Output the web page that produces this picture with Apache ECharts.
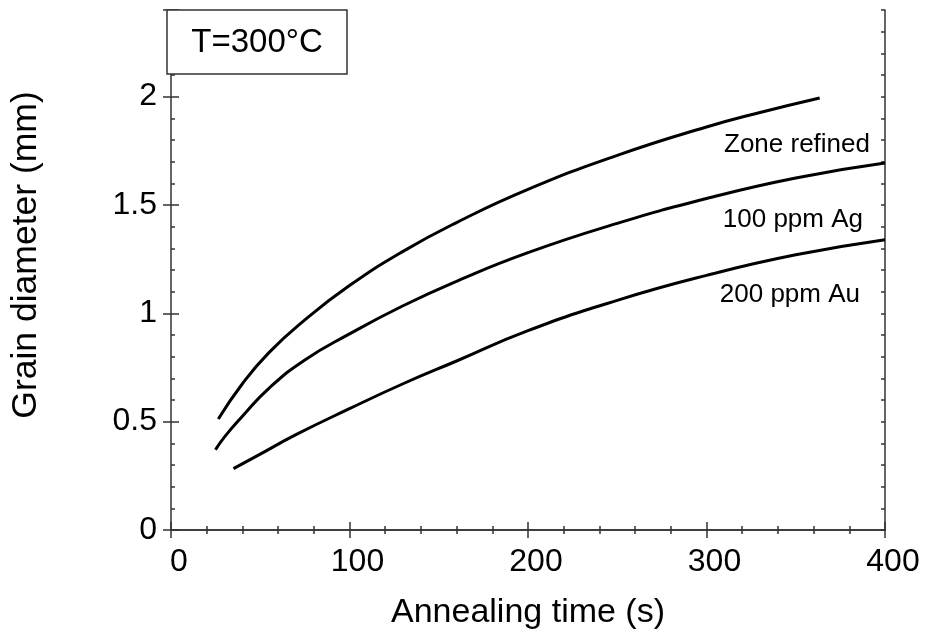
<!DOCTYPE html>
<html>
<head>
<meta charset="utf-8">
<script src="https://cdn.jsdelivr.net/npm/echarts@6/dist/echarts.min.js"></script>
<style>
html,body{margin:0;padding:0;background:#fff;}
#chart{width:926px;height:642px;}
</style>
</head>
<body>
<div id="chart"></div>
<script>
// ---- data ----
const seriesNames = ['Zone refined', '100 ppm Ag', '200 ppm Au'];
const zoneTime = [26.5, 40, 55, 75, 100, 130, 160, 200, 250, 300, 330, 363.4];
const zoneDiam = [0.512, 0.675, 0.82, 0.97, 1.128, 1.286, 1.419, 1.572, 1.729, 1.86, 1.927, 1.994];
const agTime = [24.9, 30, 40, 55, 75, 100, 130, 160, 200, 250, 300, 350, 400];
const agDiam = [0.37, 0.43, 0.525, 0.655, 0.785, 0.905, 1.035, 1.148, 1.28, 1.415, 1.53, 1.625, 1.694];
const auTime = [35, 50, 70, 100, 130, 160, 200, 250, 300, 350, 400];
const auDiam = [0.283, 0.35, 0.44, 0.56, 0.675, 0.78, 0.92, 1.06, 1.175, 1.27, 1.34];
const xTicks = [0, 100, 200, 300, 400];
const yTicks = [0, 0.5, 1, 1.5, 2];
const tempLabel = 'T=300°C';
const xTitle = 'Annealing time (s)';
const yTitle = 'Grain diameter (mm)';

const pairs = (xs, ys) => xs.map((x, i) => [x, ys[i]]);
const FONT = '"Liberation Sans", Arial, sans-serif';
const AX = '#333';

const chart = echarts.init(document.getElementById('chart'), null, {renderer: 'canvas'});

const baseX = {
  type: 'value', min: xTicks[0], max: xTicks[xTicks.length - 1], interval: 100,
  axisLine: {show: true, lineStyle: {color: AX, width: 1.5}},
  axisTick: {show: true, inside: true, length: 8, lineStyle: {color: AX, width: 1.5}},
  minorTick: {show: true, splitNumber: 5, length: 4, lineStyle: {color: AX, width: 1.5}},
  splitLine: {show: false}
};
const yMinor = (pos) => ({
  type: 'value', min: 0, max: 2.4, interval: 0.1, position: pos,
  axisLine: {show: true, onZero: false, lineStyle: {color: AX, width: 1.5}},
  axisTick: {show: true, inside: true, length: 4, lineStyle: {color: AX, width: 1.5}},
  axisLabel: {show: false},
  splitLine: {show: false}
});
const yMajor = (pos, labels) => ({
  type: 'value', min: 0, max: 2.4, interval: 0.5, position: pos,
  axisLine: {show: false},
  axisTick: {show: true, inside: true, length: 8, lineStyle: {color: AX, width: 1.5}},
  axisLabel: labels ? {
    show: true, fontSize: 32, color: '#000', fontFamily: FONT, margin: 14,
    formatter: v => (yTicks.indexOf(v) >= 0 ? String(v) : '')
  } : {show: false},
  splitLine: {show: false}
});

const lineSeries = (name, data) => ({
  name, type: 'line', xAxisIndex: 0, yAxisIndex: 0, data,
  smooth: 0.5, showSymbol: false, symbol: 'none',
  lineStyle: {color: '#000', width: 3}, silent: true, animation: false
});

chart.setOption({
  backgroundColor: '#fff',
  animation: false,
  grid: {left: 167, right: 41, top: 10, bottom: 112, containLabel: false},
  xAxis: [
    Object.assign({}, baseX, {
      position: 'bottom',
      name: xTitle, nameLocation: 'middle', nameGap: 66,
      nameTextStyle: {fontSize: 34, color: '#000', fontFamily: FONT},
      axisLabel: {show: true, fontSize: 32, color: '#000', fontFamily: FONT, margin: 16, padding: [0, 0, 0, 16]}
    }),
    Object.assign({}, baseX, {position: 'top', axisLabel: {show: false}})
  ],
  yAxis: [
    Object.assign(yMinor('left'), {
      name: yTitle, nameLocation: 'middle', nameGap: 127, nameRotate: 90,
      nameTextStyle: {fontSize: 35.5, color: '#000', fontFamily: FONT, padding: [0, 0, 0, 30]}
    }),
    yMajor('left', true),
    yMinor('right'),
    yMajor('right', false)
  ],
  series: [
    lineSeries(seriesNames[0], pairs(zoneTime, zoneDiam)),
    lineSeries(seriesNames[1], pairs(agTime, agDiam)),
    lineSeries(seriesNames[2], pairs(auTime, auDiam))
  ],
  graphic: [
    {type: 'rect', shape: {x: 167, y: 10, width: 180, height: 64},
     style: {fill: '#fff', stroke: AX, lineWidth: 1.5}, z: 100},
    {type: 'text', x: 257, y: 43, z: 101,
     style: {text: tempLabel, fontSize: 33, fontFamily: FONT, fill: '#000', align: 'center', verticalAlign: 'middle'}},
    {type: 'text', x: 870, y: 145, z: 101,
     style: {text: seriesNames[0], fontSize: 26, fontFamily: FONT, fill: '#000', align: 'right', verticalAlign: 'middle'}},
    {type: 'text', x: 863, y: 220, z: 101,
     style: {text: seriesNames[1], fontSize: 26, fontFamily: FONT, fill: '#000', align: 'right', verticalAlign: 'middle'}},
    {type: 'text', x: 860, y: 295, z: 101,
     style: {text: seriesNames[2], fontSize: 26, fontFamily: FONT, fill: '#000', align: 'right', verticalAlign: 'middle'}}
  ]
});
</script>
</body>
</html>
